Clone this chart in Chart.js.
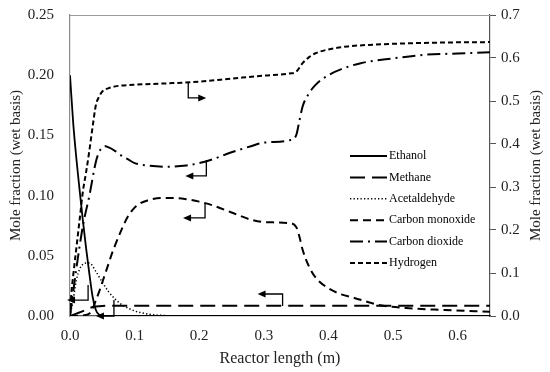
<!DOCTYPE html>
<html lang="en">
<head>
    <meta charset="UTF-8">
    <title>Mole fraction along reactor</title>
    <script src="https://cdn.jsdelivr.net/npm/chart.js"></script>
    <style>
        body {
            margin: 0;
            padding: 0;
            background: #fff;
        }
        #chart {
            display: block;
        }
    </style>
</head>
<body>
    <canvas id="chart" width="550" height="372"></canvas>
    <script>
        // axis ticks
        const xTicks = [0, 0.1, 0.2, 0.3, 0.4, 0.5, 0.6];
        const leftTicks = [0, 0.05, 0.10, 0.15, 0.20, 0.25];
        const rightTicks = [0, 0.1, 0.2, 0.3, 0.4, 0.5, 0.6, 0.7];

        // series, x = reactor length in m
        const ethanolX = [0, 0.005, 0.01, 0.015, 0.02, 0.025, 0.03, 0.035, 0.04, 0.045, 0.05, 0.06, 0.65];
        const ethanolY = [0.200, 0.160, 0.130, 0.104, 0.079, 0.056, 0.035, 0.016, 0.005, 0.001, 0.0002, 0, 0];

        const methaneX = [0, 0.01, 0.02, 0.03, 0.04, 0.05, 0.06, 0.65];
        const methaneY = [0, 0.002, 0.004, 0.0065, 0.0078, 0.0084, 0.0085, 0.0085];

        const acetX = [0, 0.005, 0.01, 0.015, 0.02, 0.025, 0.03, 0.04, 0.05, 0.06, 0.07, 0.08, 0.09, 0.1, 0.11, 0.12, 0.13, 0.15, 0.17, 0.2, 0.65];
        const acetY = [0, 0.014, 0.030, 0.039, 0.043, 0.044, 0.044, 0.037, 0.028, 0.020, 0.014, 0.0095, 0.0065, 0.0042, 0.0027, 0.0017, 0.001, 0.0003, 0.0001, 0, 0];

        const coX = [0, 0.02, 0.03, 0.035, 0.04, 0.045, 0.05, 0.055, 0.06, 0.065, 0.07, 0.08, 0.09, 0.1, 0.11, 0.12, 0.14, 0.16, 0.18, 0.2, 0.22, 0.25, 0.28, 0.3, 0.34, 0.35, 0.355, 0.36, 0.37, 0.38, 0.4, 0.42, 0.44, 0.48, 0.52, 0.58, 0.65];
        const coY = [0, 0.0005, 0.002, 0.006, 0.013, 0.020, 0.028, 0.036, 0.044, 0.052, 0.059, 0.072, 0.083, 0.090, 0.094, 0.096, 0.098, 0.098, 0.097, 0.095, 0.092, 0.086, 0.080, 0.078, 0.077, 0.074, 0.066, 0.055, 0.041, 0.032, 0.023, 0.018, 0.015, 0.009, 0.0066, 0.005, 0.0035];

        const co2X = [0, 0.01, 0.02, 0.03, 0.04, 0.045, 0.05, 0.055, 0.06, 0.07, 0.08, 0.09, 0.1, 0.12, 0.15, 0.18, 0.2, 0.22, 0.25, 0.28, 0.3, 0.34, 0.35, 0.355, 0.36, 0.37, 0.38, 0.4, 0.42, 0.45, 0.5, 0.55, 0.6, 0.65];
        const co2Y = [0, 0.040, 0.075, 0.100, 0.128, 0.136, 0.140, 0.141, 0.140, 0.137, 0.133, 0.130, 0.127, 0.125, 0.124, 0.125, 0.127, 0.130, 0.136, 0.141, 0.144, 0.146, 0.150, 0.162, 0.174, 0.185, 0.192, 0.200, 0.205, 0.210, 0.214, 0.217, 0.218, 0.219];

        const h2X = [0, 0.002, 0.005, 0.01, 0.015, 0.02, 0.025, 0.03, 0.035, 0.04, 0.045, 0.05, 0.06, 0.07, 0.08, 0.1, 0.15, 0.2, 0.25, 0.3, 0.34, 0.35, 0.36, 0.37, 0.38, 0.4, 0.43, 0.47, 0.52, 0.58, 0.65];
        const h2Y = [0, 0.05, 0.095, 0.16, 0.225, 0.29, 0.335, 0.385, 0.44, 0.49, 0.51, 0.522, 0.53, 0.534, 0.536, 0.538, 0.541, 0.545, 0.552, 0.559, 0.564, 0.568, 0.588, 0.602, 0.611, 0.620, 0.627, 0.631, 0.634, 0.636, 0.637];

        function pts(xs, ys) {
            return xs.map((x, i) => ({ x: x, y: ys[i] }));
        }

        const serif = "'Liberation Serif', 'Times New Roman', serif";

        // legend drawn inside the plot area
        const insideLegend = {
            id: 'insideLegend',
            afterDraw(chart, args, opts) {
                const ctx = chart.ctx;
                ctx.save();
                ctx.font = opts.font;
                ctx.fillStyle = '#000';
                ctx.textBaseline = 'middle';
                ctx.textAlign = 'left';
                chart.data.datasets.forEach((ds, i) => {
                    const y = opts.top + i * opts.rowGap;
                    ctx.beginPath();
                    ctx.setLineDash(ds.borderDash || []);
                    ctx.lineWidth = ds.borderWidth;
                    ctx.strokeStyle = ds.borderColor;
                    ctx.moveTo(opts.left, y);
                    ctx.lineTo(opts.left + opts.lineLen, y);
                    ctx.stroke();
                    ctx.fillText(ds.label, opts.left + opts.lineLen + 2, y);
                });
                ctx.restore();
            }
        };

        // little bent arrows pointing at the axis each curve belongs to
        const axisArrows = {
            id: 'axisArrows',
            afterDatasetsDraw(chart, args, opts) {
                const ctx = chart.ctx;
                ctx.save();
                ctx.strokeStyle = '#000';
                ctx.fillStyle = '#000';
                ctx.lineWidth = 1.3;
                ctx.setLineDash([]);
                opts.arrows.forEach(a => {
                    const x0 = chart.scales.x.getPixelForValue(a.x);
                    const y0 = chart.scales[a.axis].getPixelForValue(a.y);
                    const y1 = y0 + a.dy;
                    const x1 = x0 + a.dx;
                    const s = Math.sign(a.dx);
                    ctx.beginPath();
                    ctx.moveTo(x0, y0);
                    ctx.lineTo(x0, y1);
                    ctx.lineTo(x1 - s * 6, y1);
                    ctx.stroke();
                    ctx.beginPath();
                    ctx.moveTo(x1, y1);
                    ctx.lineTo(x1 - s * 8, y1 - 3.5);
                    ctx.lineTo(x1 - s * 8, y1 + 3.5);
                    ctx.closePath();
                    ctx.fill();
                });
                ctx.restore();
            }
        };

        // top edge of the plot box, and the right-hand title read bottom to top
        const boxExtras = {
            id: 'boxExtras',
            beforeDatasetsDraw(chart) {
                const { ctx, chartArea } = chart;
                ctx.save();
                ctx.strokeStyle = '#9a9a9a';
                ctx.lineWidth = 1;
                ctx.beginPath();
                ctx.moveTo(chartArea.left, chartArea.top + 0.5);
                ctx.lineTo(chartArea.right, chartArea.top + 0.5);
                ctx.stroke();
                ctx.restore();
            },
            afterDraw(chart, args, opts) {
                const { ctx, chartArea } = chart;
                ctx.save();
                ctx.translate(opts.x, (chartArea.top + chartArea.bottom) / 2);
                ctx.rotate(-Math.PI / 2);
                ctx.font = opts.font;
                ctx.fillStyle = '#222';
                ctx.textAlign = 'center';
                ctx.textBaseline = 'middle';
                ctx.fillText(opts.text, 0, 0);
                ctx.restore();
            }
        };

        const line = (label, xs, ys, dash, width, axis) => ({
            label: label,
            data: pts(xs, ys),
            yAxisID: axis,
            borderColor: '#000',
            backgroundColor: '#000',
            borderWidth: width,
            borderDash: dash,
            pointRadius: 0,
            fill: false,
            cubicInterpolationMode: 'monotone'
        });

        new Chart(document.getElementById('chart'), {
            type: 'line',
            data: {
                datasets: [
                    line('Ethanol', ethanolX, ethanolY, [], 1.8, 'y'),
                    line('Methane', methaneX, methaneY, [15, 7], 2, 'y'),
                    line('Acetaldehyde', acetX, acetY, [1.3, 2.2], 1.5, 'y'),
                    line('Carbon monoxide', coX, coY, [8, 5], 2, 'y'),
                    line('Carbon dioxide', co2X, co2Y, [13, 5, 2, 5], 2, 'y'),
                    line('Hydrogen', h2X, h2Y, [5, 3], 2, 'y2')
                ]
            },
            options: {
                responsive: false,
                animation: false,
                devicePixelRatio: 1,
                layout: { padding: { top: 15, left: 0, right: 0, bottom: 0 } },
                scales: {
                    x: {
                        type: 'linear',
                        min: 0,
                        max: 0.65,
                        afterBuildTicks: s => { s.ticks = xTicks.map(v => ({ value: v })); },
                        afterFit: s => { s.height = 56; s.paddingLeft = 0; s.paddingRight = 0; },
                        grid: { display: false, drawTicks: false },
                        border: { display: true, color: '#555', width: 1.2 },
                        ticks: {
                            padding: 11,
                            color: '#222',
                            font: { family: serif, size: 15 },
                            callback: v => v.toFixed(1)
                        },
                        title: {
                            display: true,
                            text: 'Reactor length (m)',
                            color: '#222',
                            font: { family: serif, size: 16 },
                            padding: { top: 0, bottom: 4 }
                        }
                    },
                    y: {
                        position: 'left',
                        min: 0,
                        max: 0.25,
                        afterBuildTicks: s => { s.ticks = leftTicks.map(v => ({ value: v })); },
                        afterFit: s => { s.width = 70; s.paddingTop = 0; s.paddingBottom = 0; },
                        grid: { display: false, drawTicks: false },
                        border: { display: true, color: '#8c8c8c', width: 1.2 },
                        ticks: {
                            padding: 16,
                            color: '#222',
                            font: { family: serif, size: 15 },
                            callback: v => v.toFixed(2)
                        },
                        title: {
                            display: true,
                            text: 'Mole fraction (wet basis)',
                            color: '#222',
                            font: { family: serif, size: 15 },
                            padding: { top: 7, bottom: 0 }
                        }
                    },
                    y2: {
                        position: 'right',
                        min: 0,
                        max: 0.7,
                        afterBuildTicks: s => { s.ticks = rightTicks.map(v => ({ value: v })); },
                        afterFit: s => { s.width = 60; s.paddingTop = 0; s.paddingBottom = 0; },
                        grid: {
                            display: true,
                            drawOnChartArea: false,
                            drawTicks: true,
                            tickLength: 6,
                            color: '#555'
                        },
                        border: { display: true, color: '#555', width: 1.2 },
                        ticks: {
                            padding: 5,
                            color: '#222',
                            font: { family: serif, size: 15 },
                            callback: v => v.toFixed(1)
                        },
                        title: { display: false }
                    }
                },
                plugins: {
                    legend: { display: false },
                    tooltip: { enabled: false },
                    boxExtras: {
                        x: 536.5,
                        text: 'Mole fraction (wet basis)',
                        font: '15px ' + serif
                    },
                    insideLegend: {
                        left: 350,
                        top: 156,
                        rowGap: 21.4,
                        lineLen: 37,
                        font: '12px ' + serif
                    },
                    axisArrows: {
                        arrows: [
                            { x: 0.183, y: 0.542, axis: 'y2', dy: 15, dx: 18 },
                            { x: 0.211, y: 0.1296, axis: 'y', dy: 16, dx: -21 },
                            { x: 0.209, y: 0.0939, axis: 'y', dy: 15, dx: -22 },
                            { x: 0.329, y: 0.0083, axis: 'y', dy: -12, dx: -25 },
                            { x: 0.028, y: 0.0257, axis: 'y', dy: 15, dx: -21 },
                            { x: 0.068, y: 0.0133, axis: 'y', dy: 16, dx: -18 }
                        ]
                    }
                }
            },
            plugins: [boxExtras, axisArrows, insideLegend]
        });
    </script>
</body>
</html>
